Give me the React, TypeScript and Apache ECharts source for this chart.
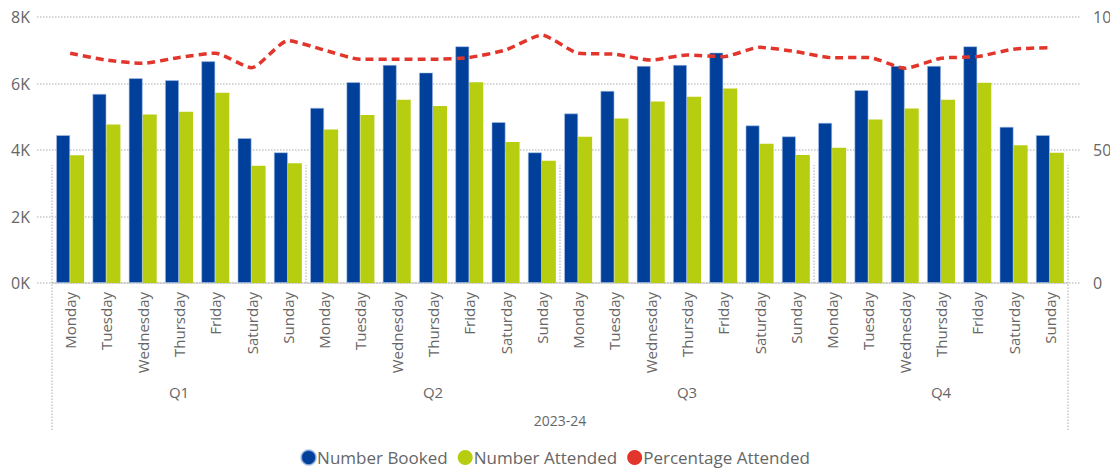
import React, { useEffect, useRef } from "react";
import * as echarts from "echarts";

const quarters = ["Q1", "Q2", "Q3", "Q4"];
const year = ["2023-24"];
const weekdays = ["Monday", "Tuesday", "Wednesday", "Thursday", "Friday", "Saturday", "Sunday"];
const days = quarters.flatMap(() => weekdays);

const numberBooked = [
  4450, 5690, 6160, 6100, 6670, 4360, 3930,
  5270, 6040, 6560, 6330, 7120, 4840, 3930,
  5100, 5780, 6530, 6560, 6930, 4740, 4410,
  4820, 5800, 6530, 6530, 7120, 4700, 4450,
];
const numberAttended = [
  3840, 4770, 5070, 5150, 5720, 3530, 3600,
  4620, 5050, 5510, 5320, 6040, 4240, 3680,
  4400, 4950, 5460, 5600, 5850, 4190, 3850,
  4070, 4920, 5250, 5510, 6020, 4140, 3920,
];
const percentageAttended = [
  86.4, 83.8, 82.6, 84.8, 86.4, 80.9, 91.1,
  87.6, 84.1, 84.1, 84.1, 84.8, 87.6, 93.2,
  86.4, 86.0, 83.8, 85.7, 85.1, 88.6, 87.0,
  84.7, 84.8, 80.7, 84.5, 85.1, 87.9, 88.5,
];
const leftTicks = [0, 2000, 4000, 6000, 8000];

const FONT = "'Open Sans', sans-serif";
const TEXT = "#666666";
const GRID = "#C8C8C8";

export default function App() {
  const ref = useRef<HTMLDivElement>(null);
  useEffect(() => {
    document.body.style.margin = "0";
    const chart = echarts.init(ref.current!, null, { renderer: "svg" });
    chart.setOption({
      animation: false,
      textStyle: { fontFamily: FONT },
      grid: [
        { left: 37, right: 30, top: 17, bottom: 188, outerBoundsMode: "none", containLabel: false },
        { left: 52, right: 42, top: 17, bottom: 188, outerBoundsMode: "none", containLabel: false },
      ],
      legend: {
        bottom: 0,
        left: "center",
        icon: "circle",
        itemWidth: 15,
        itemHeight: 15,
        itemGap: 10,
        textStyle: { fontSize: 17, color: TEXT, fontFamily: FONT, padding: [0, 0, 0, -4] },
        data: ["Number Booked", "Number Attended", "Percentage Attended"],
      },
      xAxis: [
        {
          type: "category",
          gridIndex: 1,
          data: days,
          axisLine: { show: false },
          axisTick: { show: false },
          axisLabel: { interval: 0, rotate: 90, margin: 9, fontSize: 15, color: TEXT, fontFamily: FONT },
        },
        {
          type: "category",
          gridIndex: 1,
          position: "bottom",
          offset: 118,
          data: quarters,
          axisLine: { show: true, lineStyle: { color: GRID, type: "dotted", width: 1.5 } },
          axisTick: { show: true, inside: true, length: 118, interval: 0, lineStyle: { color: GRID, type: "dotted", width: 1.5 } },
          axisLabel: { inside: true, margin: 2, fontSize: 15, color: TEXT, fontFamily: FONT },
        },
        {
          type: "category",
          gridIndex: 1,
          position: "bottom",
          offset: 147,
          data: year,
          axisLine: { show: false },
          axisTick: { show: true, inside: true, length: 147, interval: 0, lineStyle: { color: GRID, type: "dotted", width: 1.5 } },
          axisLabel: { inside: true, margin: 3, fontSize: 14, color: TEXT, fontFamily: FONT },
        },
        { type: "value", gridIndex: 0, show: false, min: 0, max: 1 },
      ],
      yAxis: [
        {
          type: "value",
          gridIndex: 0,
          position: "left",
          min: leftTicks[0],
          max: leftTicks[leftTicks.length - 1],
          interval: 2000,
          axisLine: { show: false },
          axisTick: { show: false },
          splitLine: { show: true, lineStyle: { color: GRID, type: "dotted", width: 1.5 } },
          axisLabel: { margin: 7, fontSize: 16, color: TEXT, fontFamily: FONT, formatter: (v: number) => `${v / 1000}K` },
        },
        {
          type: "value",
          gridIndex: 0,
          position: "right",
          min: 0,
          max: 100,
          interval: 50,
          axisLine: { show: false },
          axisTick: { show: false },
          splitLine: { show: false },
          axisLabel: { margin: 13, fontSize: 16, color: TEXT, fontFamily: FONT },
        },
        { type: "value", gridIndex: 1, show: false, min: 0, max: 8000, splitLine: { show: false } },
        { type: "value", gridIndex: 1, show: false, min: 0, max: 100, splitLine: { show: false } },
      ],
      series: [
        {
          name: "Number Booked",
          type: "bar",
          xAxisIndex: 0,
          yAxisIndex: 2,
          data: numberBooked,
          barWidth: 14,
          barGap: "0%",
          itemStyle: { color: "#01409A", borderColor: "rgba(170,195,235,0.7)", borderWidth: 0.8 },
        },
        {
          name: "Number Attended",
          type: "bar",
          xAxisIndex: 0,
          yAxisIndex: 2,
          data: numberAttended,
          barWidth: 14,
          barGap: "0%",
          itemStyle: { color: "#B6CD10" },
        },
        {
          name: "Percentage Attended",
          type: "line",
          xAxisIndex: 0,
          yAxisIndex: 3,
          data: percentageAttended,
          symbol: "none",
          smooth: 0.2,
          itemStyle: { color: "#E2352B" },
          lineStyle: { color: "#E2352B", width: 3.5, type: [8, 5] },
        },
      ],
    });
    return () => chart.dispose();
  }, []);
  return <div ref={ref} style={{ position: "absolute", left: 0, top: 0, width: 1110, height: 471, overflow: "hidden" }} />;
}
